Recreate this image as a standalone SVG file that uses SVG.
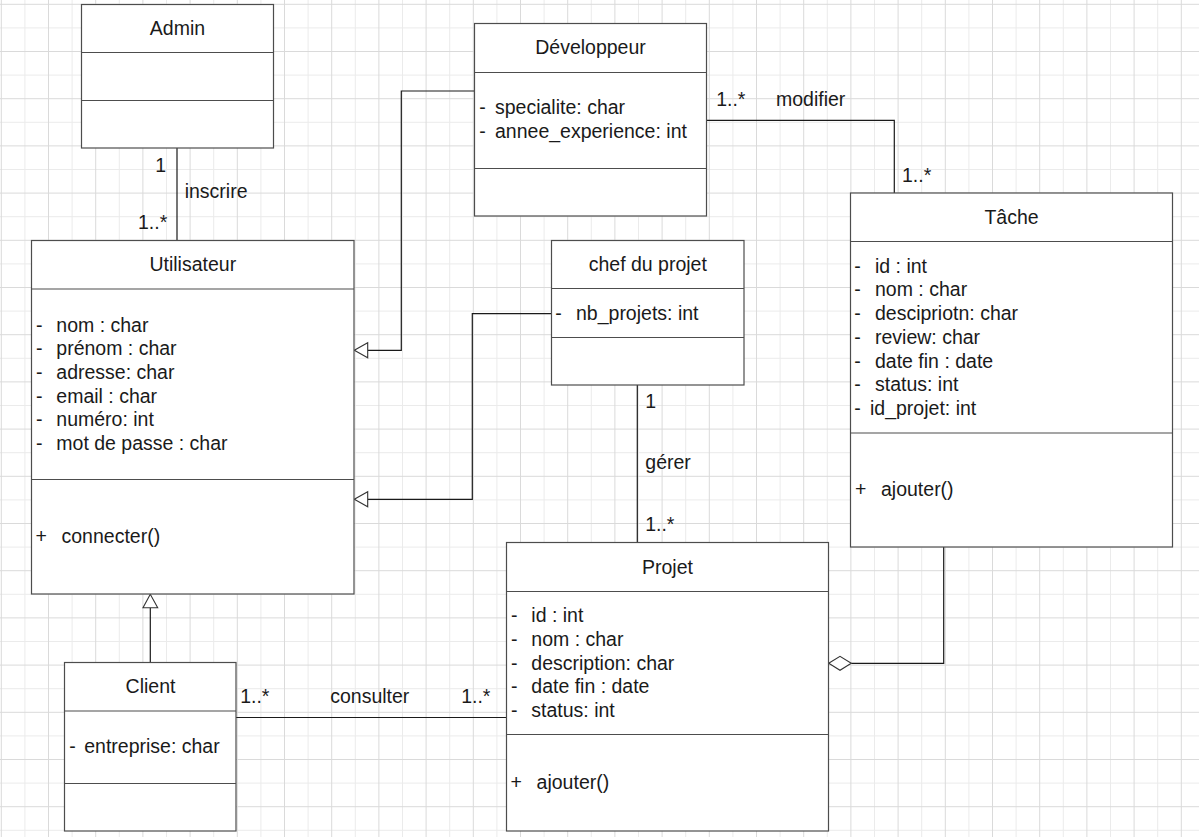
<svg xmlns="http://www.w3.org/2000/svg" width="1199" height="837" viewBox="0 0 1199 837">
<style>
.box{fill:#ffffff;stroke:#4d4d4d;stroke-width:1.2}
.div{stroke:#4d4d4d;stroke-width:1.2;fill:none}
.t{font-family:"Liberation Sans",Arial,sans-serif;font-size:19.5px;fill:#1a1a1a}
.c{text-anchor:middle}
.edge{fill:none;stroke:#1a1a1a;stroke-width:1.2}
.head{fill:#ffffff;stroke:#333333;stroke-width:1.1}
</style>
<rect x="0" y="0" width="1199" height="837" fill="#ffffff"/>
<g id="grid">
<path stroke="#ebebeb" stroke-width="1" fill="none" d="M24.9 0V837M72.1 0V837M119.3 0V837M166.5 0V837M213.7 0V837M260.9 0V837M308.1 0V837M355.3 0V837M402.5 0V837M449.7 0V837M496.9 0V837M544.1 0V837M591.3 0V837M638.5 0V837M685.7 0V837M732.9 0V837M780.1 0V837M827.3 0V837M874.5 0V837M921.7 0V837M968.9 0V837M1016.1 0V837M1063.3 0V837M1110.5 0V837M1157.7 0V837M0 27.9H1199M0 75.1H1199M0 122.3H1199M0 169.5H1199M0 216.7H1199M0 263.9H1199M0 311.1H1199M0 358.3H1199M0 405.5H1199M0 452.7H1199M0 499.9H1199M0 547.1H1199M0 594.3H1199M0 641.5H1199M0 688.7H1199M0 735.9H1199M0 783.1H1199M0 830.3H1199"/>
<path stroke="#dadada" stroke-width="1" fill="none" d="M1.3 0V837M48.5 0V837M95.7 0V837M142.9 0V837M190.1 0V837M237.3 0V837M284.5 0V837M331.7 0V837M378.9 0V837M426.1 0V837M473.3 0V837M520.5 0V837M567.7 0V837M614.9 0V837M662.1 0V837M709.3 0V837M756.5 0V837M803.7 0V837M850.9 0V837M898.1 0V837M945.3 0V837M992.5 0V837M1039.7 0V837M1086.9 0V837M1134.1 0V837M1181.3 0V837M0 4.3H1199M0 51.5H1199M0 98.7H1199M0 145.9H1199M0 193.1H1199M0 240.3H1199M0 287.5H1199M0 334.7H1199M0 381.9H1199M0 429.1H1199M0 476.3H1199M0 523.5H1199M0 570.7H1199M0 617.9H1199M0 665.1H1199M0 712.3H1199M0 759.5H1199M0 806.7H1199"/>
</g>
<g id="connectors">
<path class="edge" d="M177 148V240.5"/>
<path class="edge" d="M474.5 91H401.3V350.3H367.7"/>
<polygon class="head" points="354.3,350.3 367.7,342.8 367.7,357.8"/>
<path class="edge" d="M551.5 313.7H472.3V499.3H367.7"/>
<polygon class="head" points="354.3,499.3 367.7,491.8 367.7,506.8"/>
<path class="edge" d="M706.5 120.3H894.3V193"/>
<path class="edge" d="M637.3 385V542.5"/>
<path class="edge" d="M236 717.5H506.5"/>
<path class="edge" d="M150.3 662.5V607.7"/>
<polygon class="head" points="150.3,594.3 143,607.7 157.7,607.7"/>
<path class="edge" d="M943.7 547V663.3H851.3"/>
<polygon class="head" points="828.7,663.3 840,656.3 851.3,663.3 840,670.3"/>
<text class="t" x="155.2" y="171.7">1</text>
<text class="t" x="184.7" y="198.3">inscrire</text>
<text class="t" x="138" y="229">1..*</text>
<text class="t" x="716.2" y="106">1..*</text>
<text class="t" x="776" y="106">modifier</text>
<text class="t" x="902" y="181.7">1..*</text>
<text class="t" x="645.2" y="408.3">1</text>
<text class="t" x="645.3" y="469.3">gérer</text>
<text class="t" x="645.2" y="530.7">1..*</text>
<text class="t" x="240.2" y="703.3">1..*</text>
<text class="t" x="330.2" y="703.3">consulter</text>
<text class="t" x="461.2" y="703.3">1..*</text>
</g>
<g id="admin">
<rect class="box" x="81.5" y="4.5" width="192" height="143.5"/>
<path class="div" d="M81.5 52.5H273.5M81.5 100.5H273.5"/>
<text class="t c" x="177.5" y="34.5">Admin</text>
</g>
<g id="developpeur">
<rect class="box" x="474.5" y="23.5" width="232" height="192.5"/>
<path class="div" d="M474.5 72.5H706.5M474.5 168.5H706.5"/>
<text class="t c" x="590.5" y="53.7">Développeur</text>
<text class="t" x="479.3" y="114.3">-</text><text class="t" x="495" y="114.3">specialite: char</text>
<text class="t" x="479.3" y="138.3">-</text><text class="t" x="495" y="138.3">annee_experience: int</text>
</g>
<g id="utilisateur">
<rect class="box" x="31.5" y="240.5" width="322.5" height="353.5"/>
<path class="div" d="M31.5 289H354M31.5 479.5H354"/>
<text class="t c" x="192.8" y="271">Utilisateur</text>
<text class="t" x="36" y="331.7">-</text><text class="t" x="56.3" y="331.7">nom : char</text>
<text class="t" x="36" y="355.3">-</text><text class="t" x="56.3" y="355.3">prénom : char</text>
<text class="t" x="36" y="378.9">-</text><text class="t" x="56.3" y="378.9">adresse: char</text>
<text class="t" x="36" y="402.5">-</text><text class="t" x="56.3" y="402.5">email : char</text>
<text class="t" x="36" y="426.1">-</text><text class="t" x="56.3" y="426.1">numéro: int</text>
<text class="t" x="36" y="449.7">-</text><text class="t" x="56.3" y="449.7">mot de passe : char</text>
<text class="t" x="35.6" y="543.3">+</text><text class="t" x="61.5" y="543.3">connecter()</text>
</g>
<g id="chef">
<rect class="box" x="551.5" y="240.5" width="192.5" height="144.5"/>
<path class="div" d="M551.5 288.5H744M551.5 337.5H744"/>
<text class="t c" x="647.8" y="270.8">chef du projet</text>
<text class="t" x="555.3" y="320">-</text><text class="t" x="576" y="320">nb_projets: int</text>
</g>
<g id="tache">
<rect class="box" x="850.5" y="193" width="322" height="354"/>
<path class="div" d="M850.5 241.5H1172.5M850.5 433H1172.5"/>
<text class="t c" x="1011.5" y="223.7">Tâche</text>
<text class="t" x="854.3" y="272.7">-</text><text class="t" x="875" y="272.7">id : int</text>
<text class="t" x="854.3" y="296.4">-</text><text class="t" x="875" y="296.4">nom : char</text>
<text class="t" x="854.3" y="320.1">-</text><text class="t" x="875" y="320.1">descipriotn: char</text>
<text class="t" x="854.3" y="343.8">-</text><text class="t" x="875" y="343.8">review: char</text>
<text class="t" x="854.3" y="367.5">-</text><text class="t" x="875" y="367.5">date fin : date</text>
<text class="t" x="854.3" y="391.2">-</text><text class="t" x="875" y="391.2">status: int</text>
<text class="t" x="854.3" y="414.9">-</text><text class="t" x="870" y="414.9">id_projet: int</text>
<text class="t" x="855" y="496">+</text><text class="t" x="881" y="496">ajouter()</text>
</g>
<g id="projet">
<rect class="box" x="506.5" y="542.5" width="322" height="288.5"/>
<path class="div" d="M506.5 591.5H828.5M506.5 734.5H828.5"/>
<text class="t c" x="667.5" y="573.5">Projet</text>
<text class="t" x="511" y="621.7">-</text><text class="t" x="531.3" y="621.7">id : int</text>
<text class="t" x="511" y="645.6">-</text><text class="t" x="531.3" y="645.6">nom : char</text>
<text class="t" x="511" y="669.5">-</text><text class="t" x="531.3" y="669.5">description: char</text>
<text class="t" x="511" y="693.4">-</text><text class="t" x="531.3" y="693.4">date fin : date</text>
<text class="t" x="511" y="717.3">-</text><text class="t" x="531.3" y="717.3">status: int</text>
<text class="t" x="510.6" y="789.3">+</text><text class="t" x="536.6" y="789.3">ajouter()</text>
</g>
<g id="client">
<rect class="box" x="64.5" y="662.5" width="171.5" height="168.5"/>
<path class="div" d="M64.5 711H236M64.5 783.5H236"/>
<text class="t c" x="150.5" y="693.2">Client</text>
<text class="t" x="69.3" y="753.3">-</text><text class="t" x="84.2" y="753.3">entreprise: char</text>
</g>
</svg>
